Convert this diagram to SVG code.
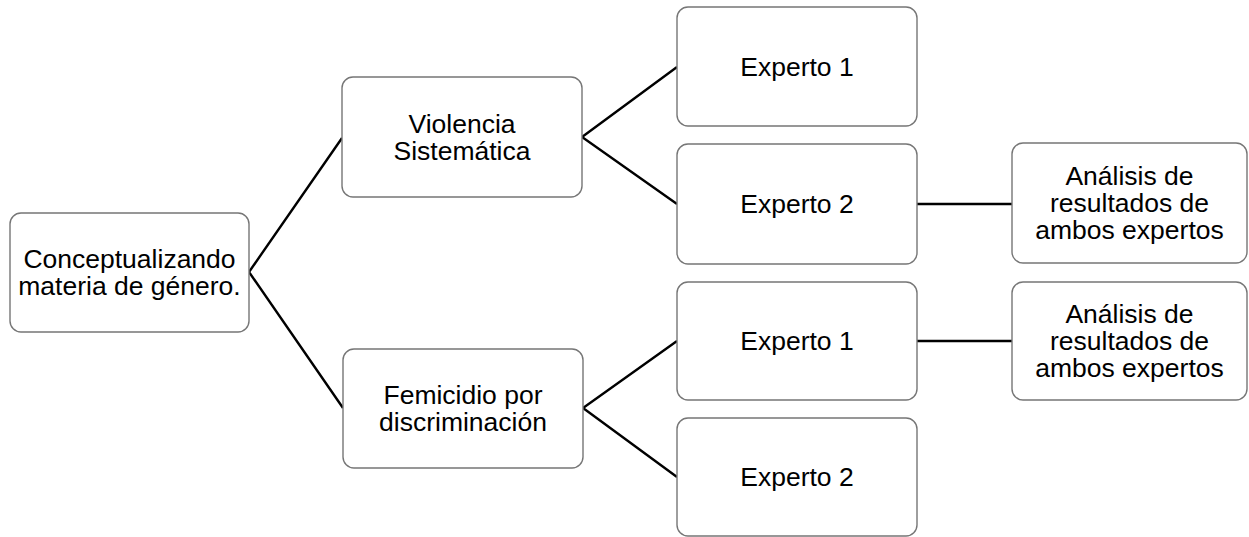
<svg xmlns="http://www.w3.org/2000/svg" width="1249" height="537" viewBox="0 0 1249 537">
<style>
.box{fill:#fff;stroke:#767676;stroke-width:1.4}
.t{font-family:"Liberation Sans",Arial,sans-serif;font-size:26.5px;fill:#000;text-anchor:middle}
.c{stroke:#000;stroke-width:2.4;fill:none}
</style>
<rect width="1249" height="537" fill="#fff"/>
<g id="connectors">
<polyline class="c" points="342,138 249,272 343,408"/>
<polyline class="c" points="677,67 582,137 677,204"/>
<polyline class="c" points="677,341 583,408 677,477"/>
<line class="c" x1="917" y1="204" x2="1012" y2="204"/>
<line class="c" x1="917" y1="341" x2="1012" y2="341"/>
</g>
<g id="root">
<rect class="box" x="10" y="213" width="239" height="119" rx="11"/>
<text class="t" x="129.5" y="268">Conceptualizando</text>
<text class="t" x="129.5" y="295">materia de género.</text>
</g>
<g id="violencia">
<rect class="box" x="342" y="77" width="240" height="120" rx="11"/>
<text class="t" x="462" y="133">Violencia</text>
<text class="t" x="462" y="160">Sistemática</text>
</g>
<g id="femicidio">
<rect class="box" x="343" y="349" width="240" height="119" rx="11"/>
<text class="t" x="463" y="404">Femicidio por</text>
<text class="t" x="463" y="431">discriminación</text>
</g>
<g id="experto1a">
<rect class="box" x="677" y="7" width="240" height="119" rx="11"/>
<text class="t" x="797" y="76">Experto 1</text>
</g>
<g id="experto2a">
<rect class="box" x="677" y="144" width="240" height="120" rx="11"/>
<text class="t" x="797" y="213">Experto 2</text>
</g>
<g id="experto1b">
<rect class="box" x="677" y="282" width="240" height="118" rx="11"/>
<text class="t" x="797" y="350">Experto 1</text>
</g>
<g id="experto2b">
<rect class="box" x="677" y="418" width="240" height="118" rx="11"/>
<text class="t" x="797" y="486">Experto 2</text>
</g>
<g id="analisis1">
<rect class="box" x="1012" y="143" width="235" height="120" rx="11"/>
<text class="t" x="1129.5" y="185">Análisis de</text>
<text class="t" x="1129.5" y="212">resultados de</text>
<text class="t" x="1129.5" y="239">ambos expertos</text>
</g>
<g id="analisis2">
<rect class="box" x="1012" y="282" width="235" height="118" rx="11"/>
<text class="t" x="1129.5" y="323">Análisis de</text>
<text class="t" x="1129.5" y="350">resultados de</text>
<text class="t" x="1129.5" y="377">ambos expertos</text>
</g>
</svg>
